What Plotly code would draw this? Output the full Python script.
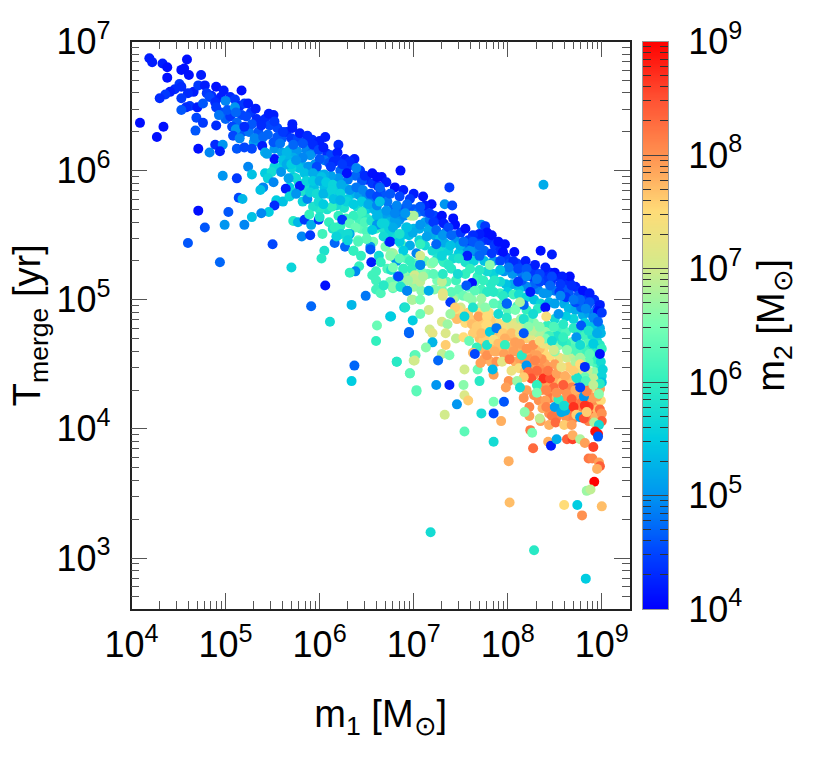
import plotly.graph_objects as go

# All values are log10 of the quantity.
# --- filling of the band (drawn first)
log_m1_f = [
4.85,4.95,5.05,5.10,5.15,4.95,5.00,5.05,5.17,5.27,
5.33,5.12,5.18,5.25,5.35,5.42,5.47,5.55,5.45,5.55,
5.30,5.38,5.60,5.65,5.70,5.77,5.85,5.92,5.97,5.52,
5.60,5.68,5.76,5.86,5.92,6.08,6.12,6.05,5.95,5.80,
5.72,5.60,5.52,5.78,6.10,6.15,6.27,6.22,6.30,6.43,
6.38,6.50,6.45,6.56,6.62,6.30,6.20,6.12,6.05,5.98,
5.90,5.72,5.78,5.68,5.72,5.82,5.88,5.94,6.05,6.10,
6.18,6.28,6.35,6.42,6.50,6.58,6.65,6.69,6.72,6.30,
6.40,6.26,6.18,6.08,6.00,5.93,6.50,6.58,6.62,6.67,
6.20,6.28,6.42,6.50,6.58,6.67,6.72,6.10,6.14,6.22,
6.44,6.50,6.60,6.68,6.74,6.74,6.80,6.85,6.90,6.95,
7.00,7.05,7.12,6.88,6.78,6.82,
6.76,6.82,6.88,6.95,7.00,7.06,7.12,7.17,7.22,7.27,
7.16,7.22,7.28,7.34,7.44,7.50,7.06,7.12,7.20,7.28,
7.33,7.45,7.55,7.60,7.66,7.74,7.80,7.86,7.92,7.75,
7.66,7.60,7.48,7.42,7.55,7.64,7.75,7.85,7.98,8.02,
8.10,8.16,8.25,7.96,8.05,8.15,8.28,8.38,8.45,8.53,
8.60,8.66,8.72,8.76,8.83,8.92,8.95,8.75,8.65,8.60,
8.50,8.42,8.32,8.28,8.20,8.12,8.05,7.98,7.92,7.85,
7.78,7.68,7.55,7.45,7.35,7.25,7.15,7.08,7.02,6.92,
7.12,7.25,7.32,7.40,
6.72,6.80,6.75,6.85,6.92,7.00,7.08,7.22,7.30,7.44,
7.48,7.58,7.65,7.72,7.82,7.92,8.00,8.06,8.12,8.20,
8.28,8.35,8.44,8.50,8.60,8.65,8.72,8.80,8.86,8.94,
8.98,8.90,8.82,8.70,8.62,8.50,8.42,8.32,8.20,8.10,
8.00,7.93,7.85,7.72,7.62,7.50,7.42,7.90,8.00,8.08,
8.14,8.20,8.28,8.40,8.45,8.55,8.62,8.70,8.78,8.82,
8.90,8.95,8.98,8.85,8.78,8.68,8.55,8.42,8.38,8.45,
8.55,8.63,8.70,8.82,8.90,8.95,8.98,8.92,8.85,8.75,
8.65,8.50,8.40,8.34,
8.25,8.38,8.47,8.55,8.65,8.78,8.88,8.94,8.86,8.78,
8.70,8.60,8.46,8.36,8.28,8.20,8.33,8.45,8.58,8.64,
8.72,8.78,8.88,8.94,8.90,8.96,8.80,8.75,8.66,8.58,
8.54,8.44,8.52,8.62,8.70,8.86,8.92]
log_t_f = [
6.58,6.57,6.57,6.55,6.50,6.45,6.40,6.42,6.43,6.45,
6.40,6.37,6.30,6.30,6.30,6.40,6.35,6.33,6.28,6.26,
6.22,6.21,6.25,6.30,6.25,6.25,6.22,6.24,6.21,6.17,
6.14,6.16,6.15,6.16,6.14,6.13,6.12,6.08,6.05,6.06,
6.10,6.03,6.03,6.02,6.06,6.07,6.09,6.00,6.03,6.00,
5.96,5.93,5.92,5.90,5.88,5.93,5.94,5.96,5.97,5.98,
6.00,5.95,5.90,5.87,5.83,5.84,5.87,5.87,5.87,5.82,
5.85,5.86,5.82,5.81,5.80,5.77,5.84,5.80,5.76,5.78,
5.72,5.71,5.73,5.70,5.70,5.72,5.70,5.70,5.68,5.66,
5.65,5.63,5.62,5.63,5.62,5.62,5.65,5.60,5.55,5.57,
5.55,5.53,5.55,5.55,5.55,5.60,5.62,5.62,5.65,5.68,
5.70,5.68,5.68,5.70,5.70,5.68,
5.50,5.48,5.50,5.50,5.55,5.55,5.60,5.62,5.65,5.62,
5.54,5.50,5.47,5.52,5.50,5.52,5.46,5.42,5.38,5.38,
5.44,5.45,5.40,5.42,5.48,5.46,5.46,5.42,5.38,5.38,
5.37,5.38,5.36,5.32,5.29,5.30,5.30,5.30,5.33,5.28,
5.28,5.25,5.24,5.22,5.20,5.20,5.22,5.20,5.21,5.18,
5.15,5.13,5.10,5.07,5.03,5.00,4.93,5.03,5.05,5.08,
5.07,5.05,5.08,5.12,5.10,5.08,5.12,5.12,5.14,5.20,
5.22,5.18,5.20,5.15,5.14,5.15,5.20,5.22,5.28,5.32,
5.30,5.32,5.29,5.24,
5.24,5.32,5.14,5.14,5.20,5.10,5.07,5.08,5.08,5.02,
5.08,5.10,5.14,5.08,5.12,5.05,5.06,5.04,5.04,5.02,
5.00,4.97,4.98,4.97,4.97,4.93,4.92,4.88,4.90,4.86,
4.78,4.80,4.82,4.85,4.87,4.85,4.80,4.93,4.92,4.95,
4.92,4.96,4.97,4.95,5.00,4.94,5.00,4.82,4.83,4.82,
4.85,4.85,4.82,4.75,4.74,4.78,4.75,4.78,4.74,4.72,
4.72,4.68,4.65,4.66,4.65,4.67,4.65,4.65,4.60,4.56,
4.55,4.55,4.57,4.56,4.52,4.50,4.46,4.44,4.45,4.45,
4.48,4.50,4.50,4.47,
4.48,4.43,4.42,4.40,4.38,4.38,4.38,4.32,4.28,4.26,
4.27,4.30,4.30,4.30,4.26,4.30,4.22,4.24,4.22,4.20,
4.23,4.20,4.20,4.18,4.14,4.19,4.13,4.15,4.12,4.18,
4.15,4.12,4.09,4.09,4.08,4.06,4.10]
log_m2_f = [
4.3,4.2,4.3,4.4,4.3,4.5,4.7,4.4,4.5,4.4,
4.3,4.7,4.6,4.8,4.6,4.3,4.5,4.5,4.7,4.6,
5.1,5.0,4.6,4.3,4.4,4.5,4.5,4.3,4.2,5.0,
5.1,5.1,5.0,4.9,4.8,4.3,4.5,4.8,5.0,5.2,
5.2,5.5,5.6,5.4,4.6,4.3,4.2,4.7,4.4,4.4,
4.7,4.3,4.6,4.4,4.3,4.8,5.0,5.1,5.2,5.2,
5.3,5.5,5.7,5.5,5.6,5.8,5.7,5.4,5.4,5.6,
5.5,5.3,5.3,5.1,4.9,4.8,4.5,4.6,4.8,5.5,
5.7,5.8,5.7,5.8,5.9,5.8,5.5,5.3,5.3,5.3,
6.0,6.1,6.1,5.9,5.7,5.4,5.1,6.0,5.8,6.0,
6.3,6.2,6.0,5.8,5.6,5.3,5.1,5.0,4.9,4.7,
4.6,4.8,4.6,4.6,4.7,4.8,
5.6,5.7,5.5,5.4,5.3,5.2,5.1,4.8,4.5,4.3,
5.2,5.2,5.4,4.9,4.7,4.4,5.6,5.7,5.7,5.7,
5.2,5.0,5.0,4.7,4.4,4.4,4.3,4.4,4.3,4.7,
4.9,5.0,5.5,5.7,5.8,5.6,5.4,5.0,4.4,4.5,
4.4,4.5,4.4,5.0,5.0,4.8,4.4,4.3,4.3,4.3,
4.3,4.3,4.2,4.3,4.4,4.3,4.5,4.6,4.6,4.6,
4.8,5.0,4.9,4.7,4.9,5.4,5.2,5.4,5.7,5.6,
5.7,6.0,6.0,6.1,6.3,6.5,6.4,6.5,6.3,6.2,
6.4,5.8,6.0,5.9,
6.2,5.9,6.4,6.5,6.6,6.7,6.6,6.6,6.5,6.5,
6.3,6.2,6.1,6.1,5.9,6.1,5.5,6.1,5.7,5.6,
5.4,5.6,5.2,5.1,5.2,5.3,5.2,5.2,5.1,5.0,
5.2,5.4,5.5,5.6,5.5,5.7,6.0,5.9,6.0,6.2,
6.3,6.2,6.3,6.7,6.6,7.0,6.8,7.4,7.2,7.0,
6.7,6.5,6.6,6.7,6.6,6.1,6.2,5.9,5.9,6.1,
5.7,5.7,5.9,6.2,6.4,6.3,6.6,7.2,7.5,7.5,
7.3,7.0,6.9,6.6,6.5,6.2,5.9,6.6,6.9,7.2,
7.6,7.9,7.9,8.0,
7.9,8.1,7.9,7.9,7.7,7.6,7.7,7.3,7.7,7.9,
8.0,8.0,7.9,7.9,8.0,7.9,8.0,8.2,8.0,8.0,
7.9,8.2,8.2,8.1,8.3,8.0,8.1,8.1,8.2,7.9,
8.0,8.0,8.1,8.0,8.1,8.1,8.4]

# --- yellow and orange body, and right-hand side of the band
log_m1_g = [
7.42,7.48,7.50,7.55,7.58,7.60,7.65,7.68,7.70,7.74,
7.74,7.80,7.82,7.84,7.70,7.74,7.80,7.87,7.90,7.92,
7.98,8.02,8.06,8.10,8.15,8.20,8.25,7.72,7.76,7.82,
7.88,7.92,8.00,8.05,8.10,8.16,8.22,8.28,8.34,8.38,
7.75,7.82,7.98,8.08,8.13,8.18,8.24,8.36,8.04,8.12,
8.18,8.28,8.35,8.42,8.50,8.58,8.62,8.70,8.76,8.82,
8.88,8.95,8.98,8.52,8.66,8.76,8.90,8.99,8.95,
8.99,8.96,8.93,8.88,8.82,8.74,8.68,8.62,8.58,8.52,
8.44,8.50,8.40,8.33,8.26,8.22,8.15,8.10,8.04,8.94,
8.99,8.86,8.78,8.72,8.98,8.92,8.85,8.78,8.72,8.62,
8.55,8.46,8.40,8.34,8.25,8.15]
log_t_g = [
4.88,4.92,4.86,4.82,4.90,4.85,4.78,4.83,4.90,4.84,
4.78,4.90,4.84,4.78,4.70,4.68,4.72,4.72,4.78,4.70,
4.78,4.72,4.70,4.70,4.70,4.70,4.72,4.62,4.60,4.62,
4.60,4.62,4.62,4.64,4.60,4.62,4.58,4.60,4.62,4.66,
4.54,4.52,4.54,4.52,4.54,4.52,4.54,4.54,4.45,4.47,
4.44,4.42,4.36,4.36,4.36,4.36,4.34,4.34,4.34,4.33,
4.33,4.37,4.31,4.24,4.18,4.10,4.24,4.22,4.15,
4.74,4.62,4.58,4.62,4.60,4.60,4.62,4.66,4.68,4.72,
4.72,4.60,4.70,4.74,4.76,4.84,4.80,4.78,4.80,4.54,
4.52,4.52,4.52,4.52,4.90,4.90,4.96,4.94,4.98,5.02,
5.06,5.14,5.15,5.14,5.18,5.15]
log_m2_g = [
7.5,7.4,7.6,7.5,7.6,7.6,7.5,7.6,7.4,7.6,
7.5,7.4,7.6,7.6,7.7,7.6,7.6,7.7,7.5,7.6,
7.4,7.5,7.8,7.6,7.4,7.6,7.2,7.9,7.8,7.7,
7.8,7.7,7.7,7.8,7.9,7.8,7.8,7.9,7.7,7.3,
7.9,7.8,7.7,7.8,7.9,8.0,8.0,8.0,7.3,7.4,
7.7,8.0,8.0,7.9,7.8,7.6,7.7,7.6,7.5,7.5,
7.3,6.8,7.0,7.8,7.9,7.8,7.9,7.5,7.7,
5.3,5.6,5.9,5.9,6.1,6.2,6.2,6.0,5.9,5.8,
6.1,6.6,6.5,6.8,6.9,6.4,6.9,7.2,7.2,6.0,
5.7,6.3,6.6,6.8,4.6,4.8,4.5,4.7,4.5,4.4,
4.4,4.3,4.4,4.5,4.4,4.6]

# --- high-T ridge, low masses
log_m1_a = [
4.19,4.22,4.33,4.38,4.59,4.53,4.56,4.61,4.38,4.74,
4.51,4.53,4.46,4.41,4.36,4.30,4.09,4.34,4.27,4.66,
4.60,4.53,4.62,4.58,4.53,4.70,4.71,4.78,4.90,4.98,
5.17,4.80,4.83,4.89,5.00,4.76,4.90,5.02,5.10,5.11,
4.93,4.69,4.76,4.90,4.68,5.07,5.11,5.20,5.24,5.32,
5.46,5.51,5.22,5.28,5.38,5.52,5.71,5.71,5.61,5.20,
5.08,5.15,5.31,5.40,5.79,5.87,6.00,6.06,6.20,4.89,
4.97,4.71,4.83,4.94,5.12,5.20,5.28,5.39,5.42,5.52,
5.44,5.51,5.58,5.72,5.82,5.93,5.99,6.04,6.19,6.19,
6.00,5.90,5.82,5.65,5.61,5.70,5.75,5.88,5.97,6.12,
6.37,6.32,6.24,6.39,6.29,6.48,6.56,6.61,5.24,4.97,
5.12,5.28,5.42,5.49,5.45,5.59,5.67,5.64,5.79,5.51,
5.40,5.37,5.14,5.18,5.54,5.61,5.52,5.68,5.82,5.87,
5.99,6.13,4.71,5.03,5.46,5.38,5.28,4.78,4.99,5.20,
5.72,5.77,5.84,5.91,5.99,6.00,5.89,6.24,6.03,5.81,
5.90,4.60,5.50]
log_t_a = [
6.87,6.84,6.83,6.80,6.86,6.78,6.79,6.74,6.72,6.74,
6.67,6.65,6.63,6.61,6.59,6.56,6.37,6.34,6.26,6.61,
6.60,6.56,6.50,6.49,6.47,6.49,6.66,6.66,6.65,6.62,
6.62,6.60,6.57,6.53,6.54,6.52,6.49,6.47,6.49,6.45,
6.43,6.41,6.37,6.35,6.31,6.34,6.32,6.52,6.52,6.48,
6.44,6.43,6.42,6.36,6.35,6.38,6.36,6.33,6.30,6.34,
6.27,6.25,6.25,6.26,6.29,6.27,6.23,6.26,6.20,6.20,
6.20,6.17,6.14,6.15,6.17,6.18,6.17,6.19,6.14,6.09,
6.13,6.22,6.21,6.20,6.21,6.20,6.16,6.18,6.14,6.08,
6.09,6.12,6.10,6.14,6.08,6.02,5.94,6.03,6.03,6.03,
6.09,6.07,6.05,6.02,5.98,5.96,5.98,5.95,6.03,5.96,
5.94,5.97,5.98,5.99,5.94,5.99,5.94,5.86,5.88,5.91,
5.87,5.85,5.79,5.78,5.77,5.76,5.73,5.80,5.76,5.78,
5.76,5.72,5.69,5.68,5.68,5.67,5.64,5.56,5.58,5.58,
5.61,5.60,5.62,5.58,5.62,5.64,5.66,5.62,5.51,5.49,
5.50,5.44,5.43]
log_m2_a = [
4.2,4.2,4.2,4.1,4.1,4.1,4.1,4.1,4.1,4.2,
4.4,4.3,4.3,4.2,4.4,4.3,4.1,4.1,4.1,4.2,
4.3,4.4,4.4,4.3,4.6,4.2,4.4,4.2,4.1,4.2,
4.1,4.4,4.5,4.3,4.9,4.6,4.4,4.6,5.0,4.7,
4.8,4.5,4.4,4.3,4.6,4.5,5.0,4.4,4.2,4.2,
4.2,4.2,4.5,4.6,4.3,4.4,4.2,4.2,4.4,4.3,
4.5,4.9,4.9,4.7,4.2,4.3,4.2,4.2,4.3,4.3,
5.0,4.1,4.9,4.2,4.6,4.5,4.5,4.2,5.2,4.1,
5.1,4.6,4.8,4.7,4.6,4.3,4.5,4.2,4.2,4.3,
4.6,5.0,4.9,5.3,5.4,5.6,5.7,5.0,4.5,4.4,
4.2,4.3,4.4,4.9,4.1,4.3,4.1,4.1,4.9,5.0,
4.4,5.4,5.5,5.7,5.6,5.0,5.1,4.2,4.2,4.9,
4.9,5.4,4.5,5.3,5.5,5.4,4.3,5.6,5.6,4.9,
5.7,6.0,4.1,4.6,5.5,4.9,5.4,4.6,5.0,4.9,
5.9,5.3,4.4,5.2,4.4,5.8,6.0,4.4,6.1,4.9,
4.4,4.6,4.5]

# --- dense part of the band around m1 ~ 10^6
log_m1_b = [
5.68,5.65,5.70,5.75,5.84,5.93,6.02,5.86,5.93,6.00,
6.07,6.14,6.23,5.90,5.97,6.04,6.13,6.22,6.32,6.39,
6.46,6.54,6.61,6.29,6.36,6.45,6.52,6.61,5.75,6.15,
6.22,6.04,6.36,6.45,6.32,6.38,6.48,6.55,6.61,6.61,
6.18,6.29,6.41,6.50,6.57,6.32,6.16,6.27,6.54,6.05,
6.36,
4.94,5.70,6.06,5.91,6.11,6.34,6.49,6.61,6.60,6.37,
6.34,6.75,6.90,6.99,6.95,6.82,7.01,7.00,6.96,7.03,
6.16,6.23,6.30,6.18,6.30,6.02,6.36,6.44,6.54,6.63,
6.55,6.65,6.42,6.38,6.32,6.56,6.60,6.60,6.76,6.83,
6.68,6.60,6.65,6.78,6.87,6.93,6.99,6.96,7.05,6.89,
6.98,7.01,7.07,6.82,6.78,6.70,6.74,6.87,6.96,6.97,
6.50,6.41,6.56,6.66,6.82,6.92,6.76,6.89,7.03,7.07]
log_t_b = [
6.08,6.05,6.05,6.08,5.98,5.98,5.95,5.92,5.92,5.92,
5.91,5.89,5.89,5.83,5.82,5.82,5.85,5.82,5.85,5.87,
5.85,5.82,5.80,5.76,5.74,5.76,5.74,5.73,5.82,5.78,
5.77,5.74,5.65,5.68,5.59,5.56,5.60,5.61,5.65,5.58,
5.49,5.46,5.46,5.47,5.45,5.51,5.44,5.41,5.41,5.38,
5.38,
5.29,5.25,5.11,4.95,4.83,4.96,5.03,4.80,4.68,4.49,
4.37,4.87,4.94,4.84,4.74,4.52,4.57,4.53,4.43,4.29,
5.56,5.51,5.51,5.49,5.46,5.32,5.38,5.34,5.39,5.34,
5.29,5.29,5.26,5.22,5.21,5.19,5.22,5.15,5.23,5.18,
5.11,5.08,5.05,5.09,5.10,5.07,5.00,5.16,5.14,5.24,
5.24,5.19,5.27,5.30,5.36,5.41,5.45,5.43,5.42,5.65,
5.47,5.45,5.54,5.59,5.59,5.56,5.36,5.38,5.36,5.43]
log_m2_b = [
5.3,5.2,5.5,5.0,5.4,5.2,5.4,5.6,5.5,5.2,
5.5,5.6,5.2,5.6,5.7,5.3,5.6,5.6,5.0,4.8,
4.9,4.6,4.5,5.6,5.5,5.5,5.2,4.9,5.0,5.4,
5.3,5.5,6.0,6.1,6.3,6.4,6.2,5.8,5.3,5.0,
5.8,6.3,6.4,6.5,6.5,5.2,4.7,4.7,5.0,5.8,
6.2,
4.7,5.6,4.1,4.7,5.7,5.3,4.8,6.4,6.0,4.7,
5.5,5.4,5.5,5.5,4.6,5.9,6.1,6.9,6.4,6.3,
6.0,5.7,5.7,5.6,5.6,5.9,6.0,6.0,4.6,5.7,
4.2,6.0,6.0,4.9,6.0,6.1,6.1,6.1,5.8,5.0,
5.9,6.1,6.2,6.3,5.9,5.0,6.8,6.4,6.6,6.2,
6.0,7.0,5.0,5.0,6.8,6.5,4.4,6.2,5.2,7.0,
6.3,6.2,5.5,5.6,5.1,5.4,6.7,5.5,4.9,6.0]

# --- upper edge and body of the band, m1 ~ 10^7 to 10^9
log_m1_c = [
6.86,7.38,8.38,7.33,7.41,6.66,6.71,6.80,6.89,7.00,
7.10,7.19,7.12,7.30,7.42,7.32,7.55,7.44,7.72,7.76,
7.78,7.83,7.70,7.63,7.58,7.90,7.97,8.07,8.35,8.47,
7.95,8.06,8.19,8.29,8.40,8.50,8.66,8.58,8.80,8.87,
8.98,8.96,9.00,
6.64,6.75,6.85,6.96,6.82,6.93,7.07,7.17,6.71,6.64,
6.80,7.00,6.91,7.07,7.21,7.37,7.24,7.31,7.40,7.14,
6.99,6.93,6.78,6.69,6.68,6.75,6.85,7.24,7.37,7.49,
7.53,7.63,7.70,7.57,7.70,7.83,7.92,8.01,8.11,8.20,
8.34,8.47,8.56,8.68,8.77,8.87,8.20,8.31,8.45,8.11,
8.24,8.38,8.56,8.70,8.83,8.91,8.96,8.78,8.40,8.17,
7.99,7.62,7.56,7.39,
6.85,7.07,7.19,7.07,6.96,6.85,6.75,6.78,6.89,7.00,
7.07,7.10,6.94,6.84,6.78,6.68,6.86,6.93,7.16,7.30,
7.40,7.31,7.21,7.31,7.21,7.37,7.48,7.30,7.39,7.47,
7.60,7.70,7.81,7.92,7.86,7.74,7.78,7.65,7.53,7.58,
7.72,7.85,7.95,7.99,8.13,8.08,7.90,7.99,8.17,8.27,
8.41,8.54,8.59,8.49,8.34,8.22,8.73,8.86,8.95,8.77,
8.91,9.00,8.98,8.87,8.59,8.47,8.49,8.63,8.77,9.01,
9.00,9.00,8.73,8.82,8.91]
log_t_c = [
6.00,5.87,5.89,5.74,5.73,5.95,5.91,5.87,5.85,5.82,
5.80,5.74,5.73,5.65,5.63,5.59,5.55,5.58,5.58,5.57,
5.52,5.50,5.51,5.50,5.46,5.45,5.43,5.37,5.38,5.35,
5.37,5.30,5.30,5.27,5.25,5.21,5.18,5.18,5.07,5.05,
4.96,4.91,4.90,
5.87,5.82,5.80,5.78,5.73,5.74,5.72,5.67,5.69,5.76,
5.67,5.65,5.67,5.58,5.60,5.56,5.54,5.50,5.50,5.49,
5.52,5.56,5.56,5.59,5.49,5.45,5.45,5.43,5.38,5.42,
5.45,5.45,5.42,5.34,5.34,5.36,5.30,5.25,5.24,5.24,
5.20,5.18,5.12,5.11,5.00,4.98,5.18,5.16,5.11,5.14,
5.06,5.05,5.03,5.00,4.93,4.86,4.83,4.80,4.94,4.96,
4.97,5.13,5.11,4.98,
5.51,5.34,5.28,5.27,5.30,5.32,5.34,5.25,5.24,5.16,
5.14,5.18,5.15,5.18,5.10,5.11,5.10,5.07,5.07,5.14,
5.06,5.03,5.20,5.20,5.29,5.27,5.32,5.34,5.42,5.20,
5.24,5.23,5.27,5.23,5.15,5.15,5.06,5.07,5.03,5.02,
5.01,5.06,5.03,4.97,4.98,4.92,4.89,4.86,4.85,4.89,
4.87,4.89,4.81,4.79,4.79,4.79,4.71,4.76,4.74,4.65,
4.66,4.62,4.58,4.58,4.71,4.68,4.61,4.61,4.55,4.46,
4.41,4.36,4.40,4.40,4.39]
log_m2_c = [
4.1,4.4,5.2,5.0,4.5,4.1,4.2,4.1,4.2,4.2,
4.1,4.1,4.2,4.1,4.1,4.2,4.1,4.1,5.0,4.4,
4.1,4.1,4.2,4.3,4.4,4.1,4.1,4.1,4.1,4.2,
4.1,4.3,4.2,4.2,4.2,4.1,4.1,4.2,4.1,4.2,
4.2,4.1,4.4,
4.7,4.6,4.5,4.4,4.9,4.7,4.6,4.4,5.0,5.4,
4.9,6.8,5.0,5.0,4.4,4.5,4.7,5.0,4.7,5.1,
5.2,5.4,5.2,5.6,5.7,4.2,5.5,4.7,5.6,5.3,
4.7,4.6,4.7,4.2,4.7,4.4,4.5,4.8,4.5,4.6,
4.5,4.5,4.4,4.3,4.7,4.6,4.9,4.8,4.7,4.4,
4.2,5.0,4.9,4.8,4.9,4.9,4.7,4.6,4.1,4.7,
4.5,4.1,4.6,4.4,
5.8,7.0,6.7,4.9,6.0,6.3,6.6,6.5,6.0,6.9,
6.9,6.8,6.7,4.5,6.6,5.9,5.8,4.9,5.2,6.9,
6.3,7.1,6.3,5.9,6.5,5.9,5.8,5.6,5.4,5.7,
6.0,5.9,6.6,5.4,5.9,6.0,5.9,6.3,6.4,6.6,
6.7,5.9,5.9,4.7,6.8,6.5,5.7,5.9,5.8,5.7,
7.4,5.0,5.9,6.2,6.6,6.6,5.0,5.8,5.2,5.7,
5.5,6.0,4.1,6.3,6.0,5.7,7.0,6.6,6.7,5.6,
5.6,5.4,5.8,6.4,6.9]

# --- green and orange clusters
log_m1_d = [
7.31,7.16,7.07,6.98,7.07,6.91,6.76,6.95,7.17,7.20,
7.30,7.36,7.34,7.20,7.13,7.34,7.30,7.38,7.02,7.01,
6.82,6.96,7.26,7.45,7.54,7.68,7.24,7.38,7.53,7.70,
7.44,7.46,7.39,7.54,7.63,7.69,7.76,7.78,7.78,7.62,
7.67,7.63,7.72,7.81,7.88,7.95,8.04,8.13,7.97,8.08,
8.17,7.53,7.59,7.78,7.67,7.85,7.90,7.97,7.63,7.65,
7.78,7.86,7.96,8.06,8.15,8.13,8.27,8.31,8.20,8.34,
7.88,7.94,8.02,7.71,7.85,7.84,8.20,8.29,8.22,8.31,
8.25,8.38,8.45,8.43,8.52,8.61,8.57,8.70,8.77,8.82,
8.01,7.98,8.17,8.10,8.68,8.84,8.98,8.59,8.49,8.31,
8.13,8.75]
log_t_d = [
5.05,4.92,4.89,5.00,5.00,4.94,4.87,4.75,4.77,4.74,
4.83,4.81,4.74,4.67,4.63,4.65,4.58,4.57,4.57,4.53,
4.52,4.43,4.53,4.70,4.46,4.46,4.34,4.34,4.34,4.37,
4.94,4.85,4.89,4.87,4.94,4.87,4.94,4.87,4.81,4.81,
4.79,4.74,4.74,4.75,4.78,4.74,4.74,4.74,4.70,4.67,
4.74,4.71,4.68,4.65,4.63,4.69,4.66,4.65,4.59,4.58,
4.57,4.60,4.58,4.60,4.57,4.66,4.65,4.57,4.62,4.68,
4.52,4.52,4.54,4.51,4.42,4.46,4.49,4.53,4.44,4.45,
4.39,4.39,4.39,4.45,4.43,4.41,4.48,4.45,4.50,4.48,
4.37,4.32,4.40,4.37,4.32,4.31,4.31,4.34,4.32,4.34,
4.32,4.32]
log_m2_d = [
7.2,7.0,6.4,6.8,6.5,5.8,5.5,4.7,7.0,7.2,
7.1,6.7,7.1,5.3,6.6,7.6,6.9,6.5,6.3,7.0,
5.9,6.3,4.7,6.9,7.0,6.4,5.0,4.2,6.6,5.9,
7.6,7.7,6.7,5.6,5.8,7.9,6.6,7.5,7.5,7.7,
7.6,7.6,7.7,5.5,4.8,7.6,7.7,7.3,7.8,7.9,
4.6,7.5,6.4,5.8,6.0,7.4,7.7,6.0,7.7,4.5,
8.0,7.8,7.9,7.9,5.9,7.9,8.0,7.9,8.0,7.4,
8.0,7.2,8.2,7.9,7.9,5.3,5.0,8.1,8.3,8.3,
8.5,8.7,8.5,8.2,7.9,7.8,7.3,7.6,7.5,4.3,
8.0,7.9,7.6,6.7,8.1,8.3,7.9,8.4,8.3,6.0,
5.7,4.4]

# --- sparse tail and lower right corner
log_m1_e = [
7.03,7.54,7.58,7.85,7.96,7.46,7.33,7.72,7.85,7.93,
7.54,7.85,8.01,8.27,8.24,8.26,8.43,8.46,8.52,8.63,
8.69,8.69,8.77,8.82,8.91,8.86,8.90,8.97,8.98,8.95,
8.92,8.84,8.88,8.02,8.60,8.74,9.00,8.79,7.18,8.28,
8.83,
8.17,8.23,8.23,8.18,8.31,8.41,8.40,8.37,8.41,8.47,
8.35,8.34,8.44,8.51,8.60,8.68,8.50,8.54,8.52,8.63,
8.72,8.68,8.57,8.61,8.60,8.70,8.73,8.77,8.81,8.81,
8.84,8.95,8.86,8.82,8.84,8.93,8.98,9.00,9.00,8.92,
8.97,8.93,8.96,8.96,8.74,8.83,8.98,8.77,8.91,8.97]
log_t_e = [
4.30,4.26,4.22,4.21,4.21,4.19,4.11,4.12,4.12,4.06,
3.98,3.90,3.75,3.85,3.99,3.97,3.90,3.87,3.92,3.92,
3.92,3.95,3.92,3.89,3.86,3.77,3.77,3.74,3.71,3.69,
3.59,3.52,3.53,3.43,3.41,3.41,3.40,3.33,3.20,3.06,
2.84,
4.24,4.17,4.10,4.13,4.28,4.30,4.22,4.16,4.17,4.10,
4.06,4.08,4.03,4.05,4.03,4.03,4.17,4.23,4.28,4.27,
4.30,4.23,4.13,4.14,4.18,4.17,4.11,4.09,4.08,4.25,
4.29,4.25,4.17,4.18,4.13,4.09,4.15,4.12,4.06,4.05,
4.03,3.98,3.96,3.94,4.39,4.37,4.35,4.32,4.34,4.27]
log_m2_e = [
6.3,7.1,7.6,6.5,4.6,5.0,7.0,5.7,4.5,7.8,
6.3,5.7,7.8,8.3,8.2,6.5,7.8,4.2,5.2,8.4,
8.6,7.8,6.8,7.9,8.6,8.2,8.1,7.9,8.4,7.8,
9.0,6.7,6.9,7.7,7.5,5.5,7.7,8.0,5.7,5.9,
5.5,
8.0,8.1,7.9,6.6,6.5,8.1,7.9,7.8,8.1,8.2,
7.9,6.9,7.8,8.3,7.6,7.9,5.1,6.0,8.0,8.0,
7.8,8.4,5.2,5.2,5.7,8.7,7.6,5.1,8.5,5.0,
8.1,7.9,8.6,8.7,7.6,7.8,8.3,8.0,8.4,6.8,
5.7,8.9,8.9,4.6,5.8,6.2,5.9,4.5,6.9,6.6]

for name, s1, s2, s3 in [("f", log_m1_f, log_t_f, log_m2_f), ("g", log_m1_g, log_t_g, log_m2_g),
                         ("a", log_m1_a, log_t_a, log_m2_a), ("b", log_m1_b, log_t_b, log_m2_b),
                         ("c", log_m1_c, log_t_c, log_m2_c), ("d", log_m1_d, log_t_d, log_m2_d),
                         ("e", log_m1_e, log_t_e, log_m2_e)]:
    assert len(s1) == len(s2) == len(s3), (name, len(s1), len(s2), len(s3))

m1 = [10 ** v for v in log_m1_f + log_m1_g + log_m1_a + log_m1_b + log_m1_c + log_m1_d + log_m1_e]
t_merge = [10 ** v for v in log_t_f + log_t_g + log_t_a + log_t_b + log_t_c + log_t_d + log_t_e]
m2_log = log_m2_f + log_m2_g + log_m2_a + log_m2_b + log_m2_c + log_m2_d + log_m2_e

palette = [
    [0.0, "rgb(0,0,255)"], [0.1, "rgb(0,70,255)"], [0.2, "rgb(0,150,240)"],
    [0.3, "rgb(0,205,225)"], [0.4, "rgb(50,240,190)"], [0.5, "rgb(120,255,180)"],
    [0.6, "rgb(210,235,140)"], [0.7, "rgb(255,220,120)"], [0.8, "rgb(255,145,80)"],
    [0.9, "rgb(255,80,50)"], [1.0, "rgb(255,0,0)"],
]

FONT = "Liberation Sans, Arial, sans-serif"
W, H = 814, 776
TICK = "#555555"

def minor_vals(lo, hi):
    return [d * 10 ** e for e in range(lo, hi) for d in range(2, 10)]

def sup(e):
    return f"10<sup>{e}</sup>"

fig = go.Figure()
fig.add_trace(go.Scatter(
    x=m1, y=t_merge, mode="markers", xaxis="x", yaxis="y", showlegend=False,
    marker=dict(size=10, color=m2_log, cmin=4, cmax=9, colorscale=palette,
                showscale=False, line=dict(width=0)),
))

bar_levels = [4 + i * 0.01 for i in range(501)]
fig.add_trace(go.Heatmap(
    x=[0, 1], y=[10 ** v for v in bar_levels], z=[[v, v] for v in bar_levels],
    xaxis="x2", yaxis="y2", zmin=4, zmax=9, colorscale=palette,
    showscale=False, hoverinfo="skip",
))

fig.update_layout(
    width=W, height=H, autosize=False, plot_bgcolor="white", paper_bgcolor="white",
    margin=dict(l=0, r=0, t=0, b=0), showlegend=False,
    font=dict(family=FONT, size=36, color="black"),
    xaxis=dict(
        type="log", range=[4, 9.3], domain=[131.5 / W, 630 / W], anchor="y", automargin=False,
        showgrid=False, zeroline=False, showline=True, linecolor="#222", linewidth=1.5,
        mirror="allticks", ticks="inside", ticklen=16, tickwidth=1, tickcolor=TICK,
        tickvals=[10 ** e for e in range(4, 10)], ticktext=[sup(e) for e in range(4, 10)],
        tickangle=0, ticklabelstandoff=3,
        minor=dict(ticks="inside", ticklen=8, tickwidth=1, tickcolor=TICK,
                   tickvals=minor_vals(4, 9), showgrid=False),
        title=dict(text="m<sub>1</sub> [M<sub>⊙</sub>]", standoff=36,
                   font=dict(family=FONT, size=38)),
    ),
    yaxis=dict(
        type="log", range=[2.605, 7], domain=[1 - 609 / H, 1 - 41.5 / H], anchor="x", automargin=False,
        showgrid=False, zeroline=False, showline=True, linecolor="#222", linewidth=1.5,
        mirror="allticks", ticks="inside", ticklen=16, tickwidth=1, tickcolor=TICK,
        tickvals=[10 ** e for e in range(3, 8)], ticktext=[sup(e) for e in range(3, 8)],
        ticklabelstandoff=12,
        minor=dict(ticks="inside", ticklen=8, tickwidth=1, tickcolor=TICK,
                   tickvals=[d * 100 for d in range(4, 10)] + minor_vals(3, 7), showgrid=False),
        title=dict(text="T<sub>merge</sub> [yr]", standoff=4,
                   font=dict(family=FONT, size=38)),
    ),
    xaxis2=dict(
        range=[0, 1], domain=[643 / W, 668 / W], anchor="y2", showgrid=False, zeroline=False,
        automargin=False, showticklabels=False, ticks="", showline=True, linecolor="#999",
        linewidth=1, mirror=True,
    ),
    yaxis2=dict(
        type="log", range=[4, 9], domain=[1 - 609 / H, 1 - 41.5 / H], anchor="x2", side="right",
        automargin=False, showgrid=False, zeroline=False, showline=True, linecolor="#999", linewidth=1,
        mirror="allticks", ticks="inside", ticklen=25, tickwidth=1, tickcolor="#444",
        tickvals=[10 ** e for e in range(4, 10)], ticktext=[sup(e) for e in range(4, 10)],
        ticklabelstandoff=12,
        minor=dict(ticks="inside", ticklen=8, tickwidth=1, tickcolor="#333",
                   tickvals=minor_vals(4, 9), showgrid=False),
        title=dict(text="m<sub>2</sub> [M<sub>⊙</sub>]", standoff=16,
                   font=dict(family=FONT, size=38)),
    ),
)

fig.write_html("out.html", config=dict(displayModeBar=False),
               post_script="document.body.style.margin='0';")
